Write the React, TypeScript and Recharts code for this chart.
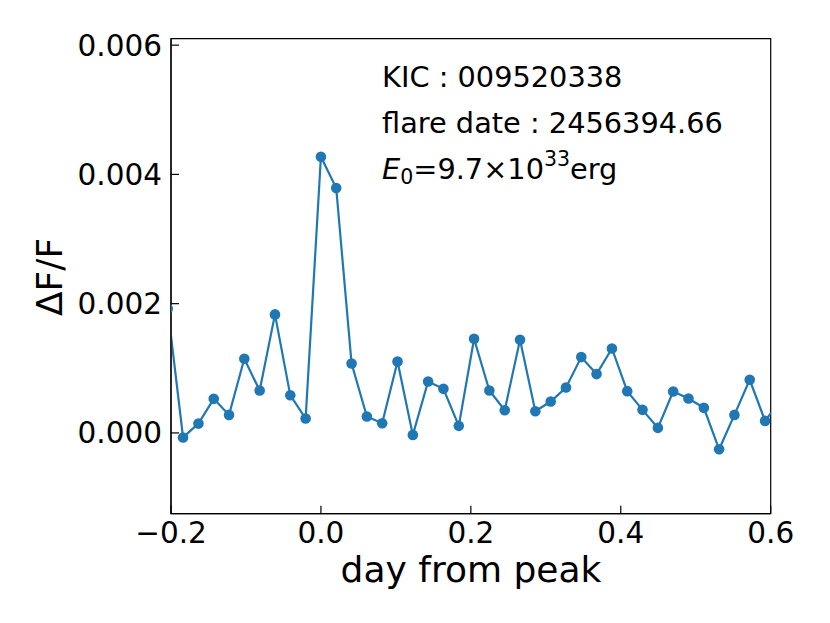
import React from "react";
import {
  LineChart,
  Line,
  XAxis,
  YAxis,
  ReferenceArea,
} from "recharts";

// days from flare peak (Kepler long cadence)
const days = [
  -0.2043, -0.1839, -0.1634, -0.143, -0.1226, -0.1022, -0.0817, -0.0613,
  -0.0409, -0.0204, 0.0, 0.0204, 0.0409, 0.0613, 0.0817, 0.1022, 0.1226,
  0.143, 0.1634, 0.1839, 0.2043, 0.2247, 0.2452, 0.2656, 0.286, 0.3065,
  0.3269, 0.3473, 0.3677, 0.3882, 0.4086, 0.429, 0.4495, 0.4699, 0.4903,
  0.5108, 0.5312, 0.5516, 0.572, 0.5925, 0.6129,
];

// relative flux change
const dFF = [
  0.00192, -0.00007, 0.000144, 0.000527, 0.000279, 0.001147, 0.000656,
  0.001834, 0.000584, 0.000222, 0.004274, 0.003788, 0.001074, 0.000253,
  0.00015, 0.001105, -0.000031, 0.000796, 0.000682, 0.000109, 0.001457,
  0.000656, 0.000351, 0.001442, 0.000336, 0.000486, 0.000703, 0.001173,
  0.00091, 0.001307, 0.000646, 0.000357, 0.000078, 0.00064, 0.000532,
  0.000388, -0.000253, 0.000279, 0.000822, 0.000186, 0.0005,
];

const xTicks = [-0.2, 0.0, 0.2, 0.4, 0.6];
const yTicks = [0.0, 0.002, 0.004, 0.006];

const X_DOMAIN = [-0.2, 0.6];
const Y_DOMAIN = [-0.00125, 0.0061];

const data = days.map((d, i) => ({ day: d, flux: dFF[i] }));

const FONT = "'DejaVu Sans', sans-serif";
const BLUE = "#1f77b4";

export default function App() {
  return (
    <div
      style={{
        position: "absolute",
        left: 0,
        top: 0,
        width: 830,
        height: 623,
        background: "#fff",
        fontFamily: FONT,
      }}
    >
      <LineChart
        width={830}
        height={623}
        data={data}
        margin={{ top: 38.7, right: 59.3, bottom: 59.3, left: 71 }}
      >
        <XAxis
          dataKey="day"
          type="number"
          domain={X_DOMAIN}
          allowDataOverflow
          ticks={xTicks}
          tickFormatter={(v: number) => v.toFixed(1).replace("-", "\u2212")}
          height={50}
          tickSize={-8}
          tickMargin={16}
          stroke="#000"
          tick={{ fill: "#000", fontSize: 29.5, fontFamily: FONT }}
          axisLine={{ stroke: "#000", strokeWidth: 1.2 }}
          tickLine={{ stroke: "#000", strokeWidth: 1.2 }}
        />
        <YAxis
          type="number"
          domain={Y_DOMAIN}
          allowDataOverflow
          ticks={yTicks}
          tickFormatter={(v: number) => v.toFixed(3)}
          width={100}
          tickSize={-8}
          tickMargin={17}
          stroke="#000"
          tick={{ fill: "#000", fontSize: 29.5, fontFamily: FONT }}
          axisLine={{ stroke: "#000", strokeWidth: 1.2 }}
          tickLine={{ stroke: "#000", strokeWidth: 1.2 }}
        />
        <ReferenceArea
          x1={X_DOMAIN[0]}
          x2={X_DOMAIN[1]}
          y1={Y_DOMAIN[0]}
          y2={Y_DOMAIN[1]}
          fill="none"
          fillOpacity={0}
          stroke="#000"
          strokeWidth={1.2}
        />
        <Line
          dataKey="flux"
          stroke={BLUE}
          strokeWidth={2.2}
          dot={{ r: 5.3, fill: BLUE, stroke: BLUE, strokeWidth: 0 }}
          activeDot={false}
          isAnimationActive={false}
        />
      </LineChart>

      {/* axis titles and annotation */}
      <svg
        width={830}
        height={623}
        style={{ position: "absolute", left: 0, top: 0, pointerEvents: "none" }}
        fontFamily={FONT}
      >
        <text x={471} y={582} fontSize={36} textAnchor="middle" fill="#000">
          day from peak
        </text>
        <text
          x={0}
          y={0}
          fontSize={36}
          textAnchor="middle"
          fill="#000"
          transform="translate(62,277) rotate(-90)"
        >
          ΔF/F
        </text>
        <text x={382} y={87} fontSize={28.8} fill="#000">
          KIC : 009520338
        </text>
        <text x={382} y={133} fontSize={28.8} fill="#000">
          flare date : 2456394.66
        </text>
        <text x={382} y={179} fontSize={28.8} fill="#000">
          <tspan fontStyle="italic">E</tspan>
          <tspan fontSize={20.5} dy={5}>0</tspan>
          <tspan dy={-5}>=9.7×10</tspan>
          <tspan fontSize={20.5} dy={-13}>33</tspan>
          <tspan dy={13}>erg</tspan>
        </text>
      </svg>
    </div>
  );
}
